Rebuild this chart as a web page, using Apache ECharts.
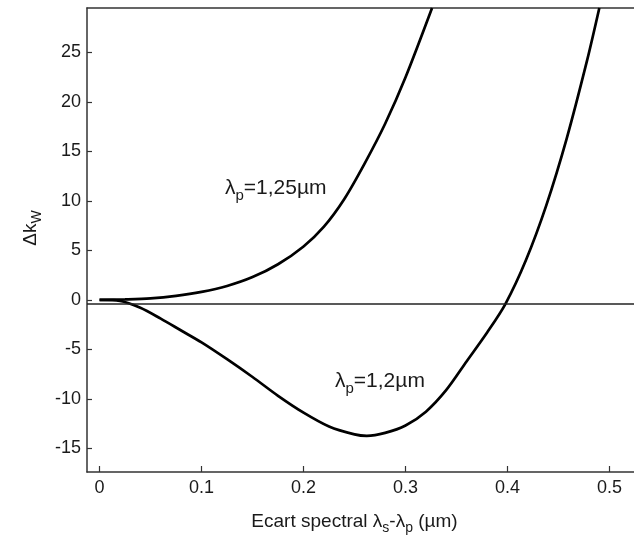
<!DOCTYPE html>
<html>
<head>
<meta charset="utf-8">
<script src="https://cdn.jsdelivr.net/npm/echarts@6/dist/echarts.min.js"></script>
<style>html,body{margin:0;padding:0;background:#fff}#c{width:634px;height:540px}</style>
</head>
<body>
<div id="c"></div>
<script>
// Curve for lambda_p = 1.25 um : [x, dk]
const curve125 = [
  [0, 0], [0.025, 0.05], [0.05, 0.15], [0.075, 0.4], [0.1, 0.8], [0.125, 1.4],
  [0.15, 2.3], [0.175, 3.6], [0.2, 5.4], [0.22, 7.4], [0.24, 10.2], [0.26, 13.8],
  [0.28, 17.8], [0.3, 22.5], [0.326, 29.5]
];
// Curve for lambda_p = 1.2 um : [x, dk]
const curve120 = [
  [0, 0], [0.02, -0.1], [0.04, -0.8], [0.06, -1.9], [0.08, -3.1], [0.1, -4.3],
  [0.125, -6.0], [0.15, -7.8], [0.175, -9.7], [0.2, -11.4], [0.225, -12.8],
  [0.25, -13.6], [0.262, -13.75], [0.28, -13.45], [0.3, -12.7], [0.32, -11.3],
  [0.34, -9.1], [0.36, -6.2], [0.38, -3.3], [0.398, -0.4], [0.418, 4.0],
  [0.438, 9.55], [0.458, 16.3], [0.478, 24.2], [0.49, 29.5]
];
const refLevel = -0.4;
const xTicks = [0, 0.1, 0.2, 0.3, 0.4, 0.5];
const yTicks = [-15, -10, -5, 0, 5, 10, 15, 20, 25];
const xRange = [-0.0123, 0.524];
const yRange = [-17.4, 29.5];

const chart = echarts.init(document.getElementById('c'), null, {renderer: 'canvas'});
const font = 'Liberation Sans, Arial, sans-serif';
const axisColor = '#333';
const textColor = '#1a1a1a';
const fs = 18;
const subRich = (size, sub, drop) => ({
  n: {fontSize: size, fontFamily: font, color: textColor, fill: textColor, lineHeight: size + 4},
  s: {fontSize: sub, fontFamily: font, color: textColor, fill: textColor, lineHeight: size + 4, padding: [drop, 0, 0, 0]}
});

chart.setOption({
  animation: false,
  grid: {left: 87, top: 8, right: 0, bottom: 63, containLabel: false},
  xAxis: [{
    type: 'value', min: xRange[0], max: xRange[1],
    axisLine: {show: true, onZero: false, lineStyle: {color: axisColor, width: 1.5}},
    axisTick: {show: true, inside: true, length: 6, customValues: xTicks, lineStyle: {color: axisColor, width: 1.2}},
    axisLabel: {customValues: xTicks, color: textColor, fontFamily: font, fontSize: fs, margin: 7,
      formatter: v => String(v)},
    splitLine: {show: false},
    name: '{n|Ecart spectral λ}{s|s}{n|-λ}{s|p}{n| (µm)}',
    nameLocation: 'middle', nameGap: 38,
    nameTextStyle: {fontFamily: font, color: textColor, padding: [0, 12, 0, 0], rich: subRich(19, 14, 13)}
  }, {
    type: 'value', position: 'top', min: xRange[0], max: xRange[1],
    axisLine: {show: true, onZero: false, lineStyle: {color: axisColor, width: 1.5}},
    axisTick: {show: false}, axisLabel: {show: false}, splitLine: {show: false}
  }],
  yAxis: {
    type: 'value', min: yRange[0], max: yRange[1],
    axisLine: {show: true, onZero: false, lineStyle: {color: axisColor, width: 1.5}},
    axisTick: {show: true, inside: true, length: 5, customValues: yTicks, lineStyle: {color: axisColor, width: 1.2}},
    axisLabel: {customValues: yTicks, color: textColor, fontFamily: font, fontSize: fs, margin: 6},
    splitLine: {show: false}
  },
  series: [{
    type: 'line', data: curve125, showSymbol: false, smooth: 0.3,
    lineStyle: {color: '#000', width: 2.7}, clip: true
  }, {
    type: 'line', data: curve120, showSymbol: false, smooth: 0.3,
    lineStyle: {color: '#000', width: 2.7}, clip: true,
    markLine: {silent: true, symbol: 'none', label: {show: false},
      lineStyle: {color: '#222', width: 1.5, type: 'solid'},
      data: [{yAxis: refLevel}]}
  }],
  graphic: [{
    type: 'text', x: 31, y: 228, rotation: Math.PI / 2,
    style: {text: '{n|Δk}{s|W}', align: 'center', verticalAlign: 'middle', fontFamily: font,
      rich: subRich(19, 14, 13)}
  }, {
    type: 'text', left: 225, top: 174,
    style: {text: '{n|λ}{s|p}{n|=1,25µm}', fontFamily: font, rich: subRich(21, 15, 14)}
  }, {
    type: 'text', left: 335, top: 367,
    style: {text: '{n|λ}{s|p}{n|=1,2µm}', fontFamily: font, rich: subRich(21, 15, 14)}
  }]
});
</script>
</body>
</html>
